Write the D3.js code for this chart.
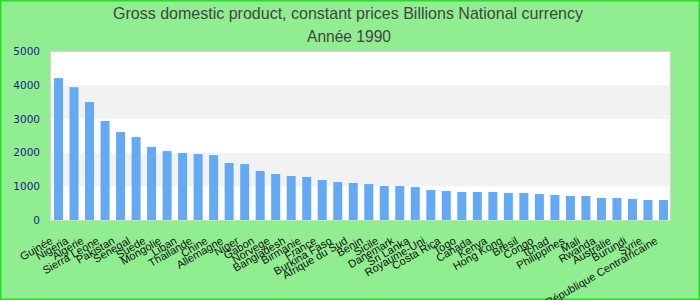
<!DOCTYPE html>
<html>
<head>
<meta charset="utf-8">
<script src="https://cdn.jsdelivr.net/npm/d3@7"></script>
<style>
  html, body { margin: 0; padding: 0; background: #90ee90; }
  svg { display: block; }
</style>
</head>
<body>
<svg id="chart" width="700" height="300"></svg>
<script>
const titleLines = ["Gross domestic product, constant prices Billions National currency", "Année 1990"];
const categories = ["Guinée", "Nigeria", "Algerie", "Sierra Leone", "Pakistan", "Senegal", "Suede", "Mongolie", "Liban", "Thailande",
  "Chine", "Allemagne", "Niger", "Gabon", "Norvege", "Bangladesh", "Birmanie", "France", "Burkina Faso", "Afrique du Sud",
  "Benin", "Sicile", "Danemark", "Sri Lanka", "Royaume-Uni", "Costa Rica", "Togo", "Canada", "Kenya", "Hong Kong",
  "Bresil", "Congo", "Tchad", "Philippines", "Mali", "Rwanda", "Australie", "Burundi", "Syrie", "République Centrafricaine"];
const values = [4210, 3940, 3500, 2935, 2610, 2460, 2165, 2045, 1985, 1955,
  1925, 1690, 1660, 1453, 1364, 1304, 1275, 1186, 1127, 1097,
  1067, 1008, 1008, 978, 889, 860, 830, 830, 830, 800,
  800, 770, 741, 711, 711, 652, 652, 622, 593, 593];
const yTicks = [0, 1000, 2000, 3000, 4000, 5000];

const svg = d3.select("#chart");
const W = 700, H = 300;
const plot = {left: 50, right: 670, top: 51.5, bottom: 220};

svg.append("rect").attr("x", 0.5).attr("y", 0.5).attr("width", W - 1).attr("height", H - 1)
  .attr("fill", "#90ee90").attr("stroke", "#22e022").attr("stroke-width", 2);

const x = d3.scaleBand().domain(categories).range([52, 670]).paddingInner(0.42).paddingOuter(0.13);
const y = d3.scaleLinear().domain([0, 5000]).range([plot.bottom, plot.top]);

// plot background
svg.append("rect").attr("x", plot.left).attr("y", plot.top)
  .attr("width", plot.right - plot.left).attr("height", plot.bottom - plot.top).attr("fill", "#ffffff");

// alternating bands
const bandPairs = d3.pairs(yTicks);
svg.append("g").selectAll("rect").data(bandPairs).join("rect")
  .attr("x", plot.left).attr("width", plot.right - plot.left)
  .attr("y", d => y(d[1])).attr("height", d => y(d[0]) - y(d[1]))
  .attr("fill", (d, i) => i % 2 === 1 ? "#f2f2f2" : "#ffffff");

// bars
svg.append("g").selectAll("rect").data(values).join("rect")
  .attr("x", (d, i) => x(categories[i])).attr("width", x.bandwidth())
  .attr("y", d => y(d)).attr("height", d => y(0) - y(d))
  .attr("fill", "#63a9f4");

// plot border
svg.append("rect").attr("x", plot.left + 0.5).attr("y", plot.top).attr("width", plot.right - plot.left)
  .attr("height", plot.bottom - plot.top + 0.5).attr("fill", "none").attr("stroke", "#d4d4d4").attr("stroke-width", 1);

// y axis
const yAxis = d3.axisLeft(y).tickValues(yTicks).tickSize(0).tickPadding(0).tickFormat(d3.format("d"));
const gy = svg.append("g").attr("transform", "translate(40,0)").call(yAxis);
gy.select(".domain").remove();
gy.selectAll("text").attr("fill", "#1a1a8c").attr("font-family", "DejaVu Sans").attr("font-size", "10.5px");

// x axis
const xAxis = d3.axisBottom(x).tickSize(0).tickPadding(0);
const gx = svg.append("g").attr("transform", `translate(0,${plot.bottom})`).call(xAxis);
gx.select(".domain").remove();
gx.selectAll("text")
  .attr("font-family", "Liberation Sans, Arial, sans-serif").attr("font-size", "11px").attr("fill", "#111")
  .attr("text-anchor", "end").attr("dy", null).attr("y", 0)
  .attr("transform", "translate(-5,23) rotate(-30)");

// title
const tg = svg.append("g").attr("fill", "#444").attr("font-family", "Liberation Sans, Arial, sans-serif").attr("font-size", "17px").attr("text-anchor", "middle");
tg.append("text").attr("x", 348).attr("y", 18.5).text(titleLines[0])
  .attr("textLength", 470).attr("lengthAdjust", "spacingAndGlyphs");
tg.append("text").attr("x", 349).attr("y", 42).text(titleLines[1])
  .attr("textLength", 84).attr("lengthAdjust", "spacingAndGlyphs");
</script>
</body>
</html>
